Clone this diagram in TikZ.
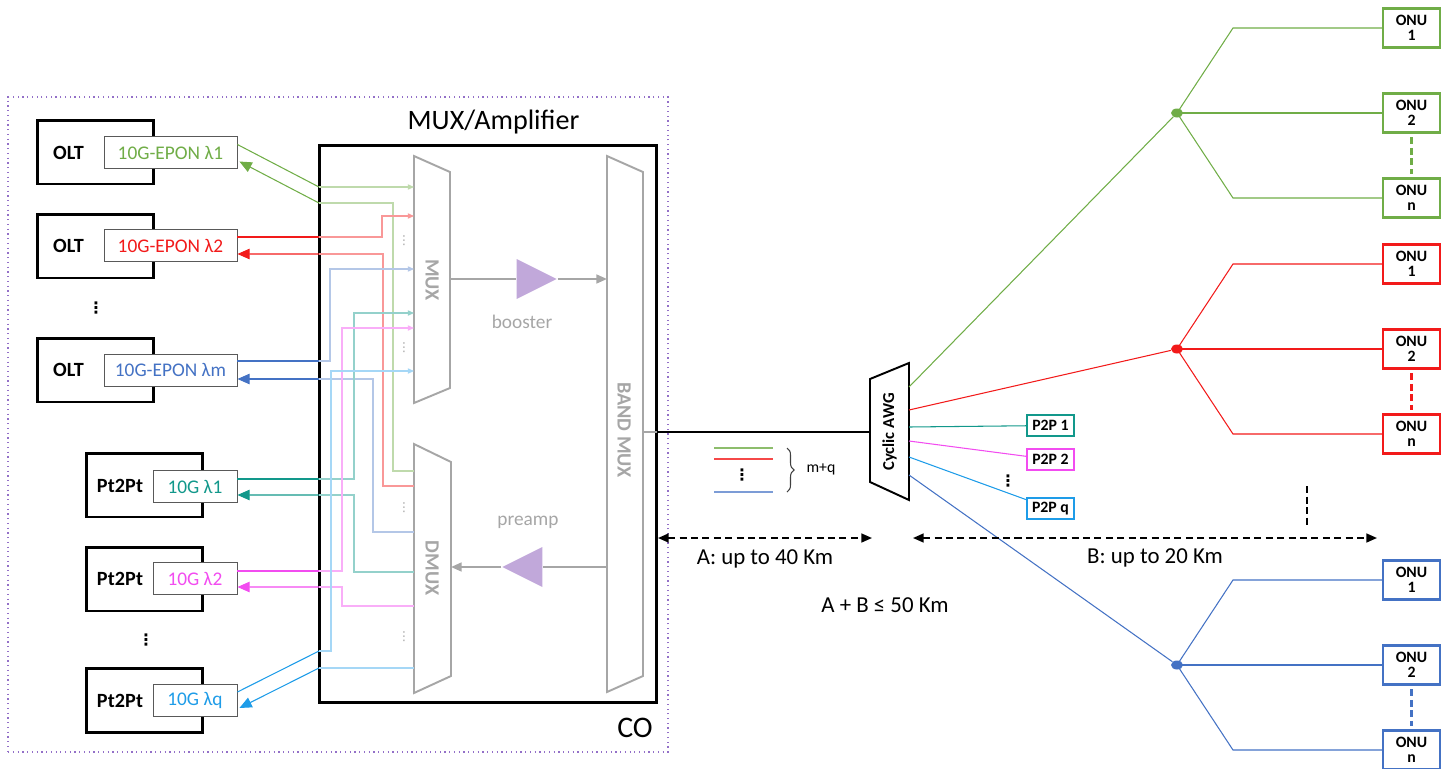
\documentclass[tikz,border=0pt]{standalone}
\usepackage{fontspec}
\setmainfont{Carlito}
\newfontfamily\symfont{DejaVu Sans}
\usetikzlibrary{arrows.meta,calc,positioning,shapes.geometric,decorations.pathreplacing}
\definecolor{cgreen}{HTML}{70AD47}
\definecolor{cred}{HTML}{F21A1A}
\definecolor{cblue}{HTML}{4472C4}
\definecolor{cteal}{HTML}{12988B}
\definecolor{cpink}{HTML}{F24CF0}
\definecolor{csky}{HTML}{1E9CE8}
\definecolor{cgray}{HTML}{A6A6A6}
\definecolor{camp}{HTML}{C1A8DA}
\definecolor{cco}{HTML}{9370C8}
\tikzset{
    co frame/.style={
        draw=cco,
        dotted,
        line width=0.7pt
    },
    unit box/.style={
        draw,
        line width=1.7pt,
        minimum width=2.34cm, minimum height=1.28cm,
        inner sep=0pt
    },
    unit name/.style={font=\fontsize{11.5}{13}\selectfont\bfseries},
    port label/.style={
        draw=black!65, fill=white,
        line width=0.5pt,
        minimum height=0.64cm,
        inner sep=1pt,
        font=\fontsize{11}{13}\selectfont
    },
    fibre out/.style={line width=0.6pt},
    fibre back/.style={line width=0.6pt, -{Triangle[length=7pt,width=6pt]}},
    inner up/.style={line width=0.6pt, -{Triangle[length=3.5pt,width=3pt]}},
    inner down/.style={line width=0.6pt},
    mux part/.style={draw=cgray, fill=white, line width=1.1pt},
    mux name/.style={text=cgray, font=\fontsize{11.5}{13}\selectfont\bfseries, rotate=-90},
    gray line/.style={draw=cgray, line width=1.1pt},
    amp shape/.style={
        isosceles triangle,
        isosceles triangle stretches,
        fill=camp,
        minimum width=0.8cm, minimum height=0.8cm,
        inner sep=0pt
    },
    small text/.style={font=\fontsize{11}{13}\selectfont},
    onu box/.style={
        draw, fill=white,
        line width=1.4pt,
        minimum width=1.14cm, minimum height=0.78cm,
        inner sep=0pt, align=center,
        font=\fontsize{9}{8.5}\selectfont\bfseries
    },
    ptp box/.style={
        draw,
        line width=1.2pt,
        minimum width=0.94cm, minimum height=0.42cm,
        inner sep=0pt,
        font=\fontsize{9}{10}\selectfont\bfseries
    },
    splitter/.style={ellipse, minimum width=0.24cm, minimum height=0.18cm, inner sep=0pt},
    span arrow/.style={
        line width=1pt,
        dash pattern=on 4pt off 2.5pt,
        {Triangle[length=6pt,width=5pt]}-{Triangle[length=6pt,width=5pt]}
    },
    more dots/.style={font=\symfont\bfseries\fontsize{9}{9}\selectfont, inner sep=0pt},
    mux dots/.style={text=cgray, font=\symfont\fontsize{7}{7}\selectfont, inner sep=0pt}
}

\begin{document}
\begin{tikzpicture}[x=0.02cm, y=-0.02cm]
\useasboundingbox (0,0) rectangle (1441,768);

% central office frame and amplifier box
\node[co frame, minimum width=13.2cm, minimum height=13.1cm] (co) at (338,424.5) {};
\node[font=\fontsize{17}{20}\selectfont] (coname) at (635,728) {CO};
\node[draw, line width=1.7pt, minimum width=6.76cm, minimum height=11.16cm] (amp) at (488,424) {};
\node[font=\fontsize{16}{19}\selectfont] (ampname) at (493.5,122) {MUX/Amplifier};

% OLT and Pt2Pt units
\node[unit box] (o1) at (95.5,152) {};
\node[unit name] (o1n) at (68.5,153) {OLT};
\node[port label, minimum width=2.66cm, text=cgreen] (p1) at (170.5,152.5) {10G-EPON λ1};
\node[unit box] (o2) at (95.5,246) {};
\node[unit name] (o2n) at (68.5,246) {OLT};
\node[port label, minimum width=2.66cm, text=cred] (p2) at (170.5,245.5) {10G-EPON λ2};
\node[more dots] (odots) at (96,308) {⋮};
\node[unit box] (om) at (95.5,370) {};
\node[unit name] (omn) at (68.5,370) {OLT};
\node[port label, minimum width=2.66cm, text=cblue] (pm) at (170.5,370) {10G-EPON λm};

\node[unit box] (t1) at (144.5,485) {};
\node[unit name] (t1n) at (120,486) {Pt2Pt};
\node[port label, minimum width=1.68cm, text=cteal] (q1) at (195,486.5) {10G λ1};
\node[unit box] (t2) at (144.5,579) {};
\node[unit name] (t2n) at (120,579) {Pt2Pt};
\node[port label, minimum width=1.68cm, text=cpink] (q2) at (195,578.5) {10G λ2};
\node[more dots] (tdots) at (146,640) {⋮};
\node[unit box] (tq) at (144.5,700.5) {};
\node[unit name] (tqn) at (120,701) {Pt2Pt};
\node[port label, minimum width=1.68cm, text=csky] (qq) at (195,700.5) {10G λq};

% where the fibres enter the amplifier box
\coordinate (gu) at (319,187);
\coordinate (gd) at (319,203);
\coordinate (ru) at (319,237);
\coordinate (rd) at (319,254);
\coordinate (bu) at (319,361);
\coordinate (bd) at (319,379);
\coordinate (tu) at (319,479);
\coordinate (td) at (319,495);
\coordinate (mu) at (319,571);
\coordinate (md) at (319,587);
\coordinate (su) at (319,651);
\coordinate (sd) at (319,668);

\draw[fibre out, cgreen] ($(p1.east)+(0,-8)$) -- (gu);
\draw[fibre back, cgreen] (gd) -- ($(p1.east)+(2,9)$);
\draw[fibre out, cred] ($(p2.east)+(0,-8.5)$) -- (ru);
\draw[fibre back, cred] (rd) -- ($(p2.east)+(0,8.5)$);
\draw[fibre out, cblue] ($(pm.east)+(0,-9)$) -- (bu);
\draw[fibre back, cblue] (bd) -- ($(pm.east)+(0,9)$);
\draw[fibre out, cteal] ($(q1.east)+(0,-7.5)$) -- (tu);
\draw[fibre back, cteal] (td) -- ($(q1.east)+(0,8.5)$);
\draw[fibre out, cpink] ($(q2.east)+(0,-7.5)$) -- (mu);
\draw[fibre back, cpink] (md) -- ($(q2.east)+(0,8.5)$);
\draw[fibre out, csky] ($(qq.east)+(0,-8.5)$) -- (su);
\draw[fibre back, csky] (sd) -- ($(qq.east)+(2,7.5)$);

% MUX, DMUX and BAND MUX
\coordinate (mux1) at (414,156);
\coordinate (mux2) at (450,172);
\coordinate (mux3) at (450,388);
\coordinate (mux4) at (414,403);
\coordinate (dmux1) at (414,444);
\coordinate (dmux2) at (451,462);
\coordinate (dmux3) at (451,676);
\coordinate (dmux4) at (414,693);
\coordinate (band1) at (607,156);
\coordinate (band2) at (643,172);
\coordinate (band3) at (643,676);
\coordinate (band4) at (607,692);
\draw[mux part] (mux1) -- (mux2) -- (mux3) -- (mux4) -- cycle;
\draw[mux part] (dmux1) -- (dmux2) -- (dmux3) -- (dmux4) -- cycle;
\draw[mux part] (band1) -- (band2) -- (band3) -- (band4) -- cycle;
\node[mux name] (muxname) at (432,280) {MUX};
\node[mux name] (dmuxname) at (432,568) {DMUX};
\node[mux name] (bandname) at (624,430) {BAND MUX};

% routing inside the box
\draw[inner up, cgreen!45] (gu) -- (414,187);
\draw[inner down, cgreen!45] (gd) -| (393,471) -- (414,471);
\draw[inner up, cred!45] (ru) -| (382,216) -- (414,216);
\draw[inner down, cred!45] (rd) -| (383,486) -- (414,486);
\draw[inner up, cblue!40] (bu) -| (330,269) -- (414,269);
\draw[inner down, cblue!40] (bd) -| (373,532) -- (414,532);
\draw[inner up, cteal!45] (tu) -| (354,313) -- (414,313);
\draw[inner down, cteal!45] (td) -| (354,572) -- (414,572);
\draw[inner up, cpink!45] (mu) -| (342,328) -- (414,328);
\draw[inner down, cpink!45] (md) -| (342,606) -- (414,606);
\draw[inner up, csky!40] (su) -| (331,371) -- (414,371);
\draw[inner down, csky!40] (sd) -- (414,668);
\node[mux dots] (md1) at (404,241) {⋮};
\node[mux dots] (md2) at (404,348) {⋮};
\node[mux dots] (md3) at (404,508) {⋮};
\node[mux dots] (md4) at (404,637) {⋮};

% booster and preamp
\coordinate (muxo) at (450,279);
\coordinate (bandi) at (607,279);
\coordinate (bando) at (607,567);
\coordinate (dmuxi) at (451,567);
\node[amp shape] (boost) at (529,279) {};
\node[amp shape, shape border rotate=180] (pre) at (530,567) {};
\draw[gray line] (muxo) -- (boost);
\draw[gray line, -{Triangle[length=6pt,width=5pt]}] (boost) -- (bandi);
\draw[gray line] (bando) -- (pre);
\draw[gray line, -{Triangle[length=6pt,width=5pt]}] (pre) -- (dmuxi);
\node[small text, text=cgray] (boostname) at (522,322) {booster};
\node[small text, text=cgray] (prename) at (528,522) {preamp};

% feeder fibre and cyclic AWG
\coordinate (bandout) at (643,432);
\coordinate (ampout) at (657,432);
\coordinate (awgin) at (870,432);
\draw[cgray, line width=0.7pt] (bandout) -- (ampout);
\draw[line width=0.7pt] (ampout) -- (awgin);
\coordinate (awg1) at (870,379);
\coordinate (awg2) at (909,363);
\coordinate (awg3) at (909,500);
\coordinate (awg4) at (870,482);
\draw[line width=1.1pt, fill=white] (awg1) -- (awg2) -- (awg3) -- (awg4) -- cycle;
\node[rotate=90, font=\fontsize{9.5}{11}\selectfont\bfseries] (awgname) at (889.5,432) {Cyclic AWG};

% legend of the wavelengths
\draw[cgreen!80, line width=0.6pt] (714,448) -- (773,448);
\draw[cred!80, line width=0.6pt] (714,459) -- (773,459);
\node[more dots] (ldots) at (742,475) {⋮};
\draw[cblue!70, line width=0.6pt] (714,492) -- (773,492);
\draw[decorate, decoration={brace, amplitude=4pt}, line width=0.6pt, black!75] (787,448) -- (787,492);
\node[font=\fontsize{9}{10}\selectfont] (mq) at (821,469) {m+q};

% point to point outlets
\coordinate (ag) at (909,387);
\coordinate (ar) at (909,410);
\coordinate (at) at (909,427);
\coordinate (am) at (909,441);
\coordinate (as) at (909,457);
\coordinate (ab) at (909,475);
\node[ptp box, draw=cteal] (pp1) at (1050.5,425.5) {P2P 1};
\node[ptp box, draw=cpink] (pp2) at (1050.5,459.5) {P2P 2};
\node[more dots] (ppdots) at (1008,481) {⋮};
\node[ptp box, draw=csky] (ppq) at (1050.5,508.5) {P2P q};
\draw[cteal, line width=0.6pt] (at) -- (pp1);
\draw[cpink, line width=0.6pt] (am) -- (pp2);
\draw[csky, line width=0.6pt] (as) -- (ppq);

% splitters and ONUs
\foreach \c/\t/\y in {cgreen/g/113, cred/r/349, cblue/b/665}{
    \node[onu box, draw=\c] (\t1) at (1411.5,\y-85) {ONU\\1};
    \node[onu box, draw=\c] (\t2) at (1411.5,\y) {ONU\\2};
    \node[onu box, draw=\c] (\t n) at (1411.5,\y+85) {ONU\\n};
    \draw[\c, line width=0.6pt] (1177,\y) -- (1233,\y-85) -- (\t1);
    \draw[\c, line width=0.6pt] (1177,\y) -- (\t2);
    \draw[\c, line width=0.6pt] (1177,\y) -- (1233,\y+85) -- (\t n);
    \draw[\c, line width=1.4pt, dash pattern=on 4pt off 2pt, shorten <=2pt, shorten >=2pt] (\t2) -- (\t n);
    \node[splitter, fill=\c] (s\t) at (1177,\y) {};
}
\draw[cgreen, line width=0.6pt] (ag) -- (sg);
\draw[cred, line width=0.6pt] (ar) -- (sr);
\draw[cblue, line width=0.6pt] (ab) -- (sb);

% reach
\coordinate (astart) at (658,538);
\coordinate (aend) at (872,538);
\coordinate (bstart) at (913,538);
\coordinate (bend) at (1377,538);
\draw[span arrow] (astart) -- (aend);
\draw[span arrow] (bstart) -- (bend);
\node[font=\fontsize{13}{15}\selectfont] (alabel) at (765,559) {A: up to 40 Km};
\node[font=\fontsize{13}{15}\selectfont] (blabel) at (1155,558) {B: up to 20 Km};
\node[font=\fontsize{13}{15}\selectfont] (ablabel) at (885,605) {A + B ≤ 50 Km};
\coordinate (vd1) at (1307,486);
\coordinate (vd2) at (1307,527);
\draw[line width=1.4pt, dash pattern=on 4pt off 2pt] (vd1) -- (vd2);
\end{tikzpicture}
\end{document}
